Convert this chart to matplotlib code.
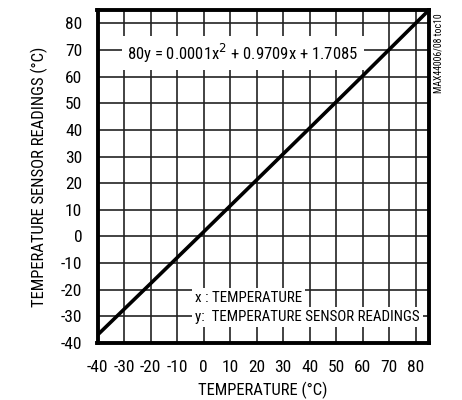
import matplotlib
matplotlib.use("Agg")
import matplotlib.pyplot as plt
from matplotlib import font_manager

names = {f.name for f in font_manager.fontManager.ttflist}
candidates = ["Liberation Sans Narrow", "Roboto Condensed", "DejaVu Sans Condensed",
              "Open Sans Condensed", "Noto Sans Condensed"]
fam = next((c for c in candidates if c in names), None)
narrow = fam is not None
if fam is None:
    fam = "Roboto" if "Roboto" in names else "Liberation Sans"
plt.rcParams['font.family'] = [fam, 'DejaVu Sans']
plt.rcParams['axes.unicode_minus'] = False

temperature = [-40, -20, 0, 20, 40, 60, 85]
readings = [-37.0, -17.7, 1.7, 21.2, 40.7, 60.3, 85.0]
ticks = list(range(-40, 90, 10))

fs = 12.5 if narrow else 10.5
fs_lab = 12 if narrow else 10.5
fs_eq = 12 if narrow else 10.5
fs_small = 10.8 if narrow else 9.3

fig = plt.figure(figsize=(4.62, 4.0), dpi=100)
ax = fig.add_axes([97.5/462, 1-343/400, (429-97.5)/462, (343-10)/400])
ax.set_xlim(-40, 85)
ax.set_ylim(-40, 85)
ax.set_xticks(ticks)
ax.set_yticks(ticks)
ax.grid(True, color='#222222', linewidth=1.2)
ax.set_axisbelow(True)
for s in ax.spines.values():
    s.set_linewidth(2.8)
    s.set_color('black')
ax.tick_params(axis='y', length=0, labelsize=fs, pad=11)
ax.tick_params(axis='x', length=0, labelsize=fs, pad=12)
ax.plot(temperature, readings, color='black', linewidth=2.6, zorder=3)

ax.text(-28.8, 66.3, "80y = 0.0001x$^2$ + 0.9709x + 1.7085", fontsize=fs_eq, va='baseline', ha='left',
        bbox=dict(facecolor='white', edgecolor='none', pad=4), zorder=4)
ax.text(-3.2, -24.6, "x : TEMPERATURE", fontsize=fs_small, va='baseline', ha='left',
        bbox=dict(facecolor='white', edgecolor='none', pad=2), zorder=4)
ax.text(-3.2, -31.7, "y:  TEMPERATURE SENSOR READINGS", fontsize=fs_small, va='baseline', ha='left',
        bbox=dict(facecolor='white', edgecolor='none', pad=2), zorder=4)

ax.set_xlabel("TEMPERATURE (°C)", fontsize=fs_lab, labelpad=5)
ax.set_ylabel("TEMPERATURE SENSOR READINGS (°C)", fontsize=fs_lab, labelpad=9)
fig.text(439/462, 1-53/400, "MAX44006/08 toc10", rotation=90, fontsize=7, va='center', ha='center')

fig.savefig("out.png", dpi=100)
